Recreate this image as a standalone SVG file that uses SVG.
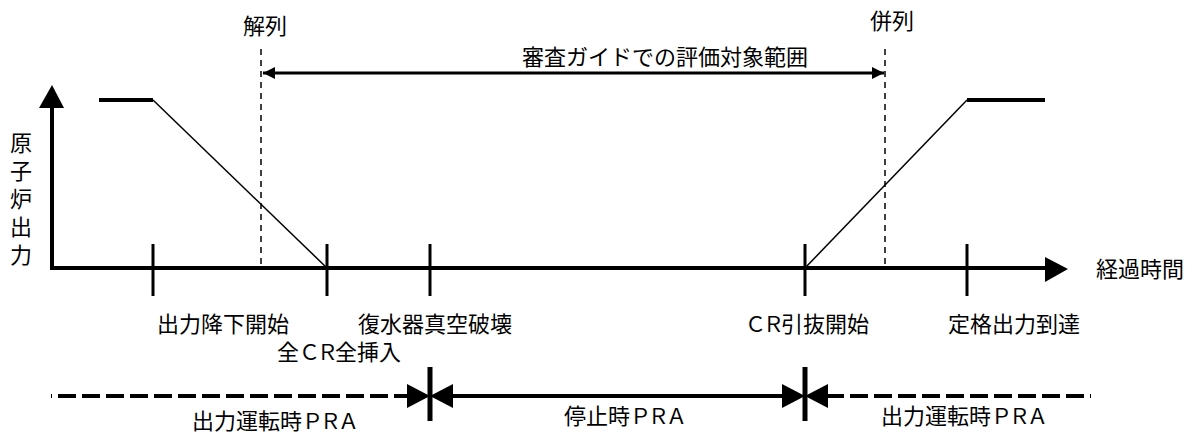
<svg xmlns="http://www.w3.org/2000/svg" width="1199" height="439" viewBox="0 0 1199 439">
<style>
text{font-family:"Noto Sans CJK JP","Noto Sans",sans-serif;font-size:22px;fill:#000}
.lt{letter-spacing:-3px;font-size:21px}
.vt{writing-mode:vertical-rl;letter-spacing:6px}
.ax{stroke:#000;stroke-width:4;fill:none}
.tk{stroke:#000;stroke-width:3;fill:none}
.bar{stroke:#000;stroke-width:5;fill:none}
.thin{stroke:#000;stroke-width:1.5;fill:none}
.dash{stroke:#000;stroke-width:1.5;stroke-dasharray:6,5;fill:none}
.bdash{stroke:#000;stroke-width:4;stroke-dasharray:18,6;fill:none}
.tri{fill:#000;stroke:none}
</style>
<defs>
<marker id="ah" viewBox="0 0 12 12" refX="12" refY="6" markerWidth="4" markerHeight="4" orient="auto-start-reverse" markerUnits="strokeWidth"><path d="M0,0L12,6L0,12z" fill="#000"/></marker>
</defs>
<g id="axes">
<line class="ax" x1="52" y1="268" x2="52" y2="106"/>
<path class="tri" d="M52,85L64,108L39,108z"/>
<line class="ax" x1="50" y1="268" x2="1047" y2="268"/>
<path class="tri" d="M1068,269L1045,257L1045,282z"/>
<text x="1096" y="277">経過時間</text>
<text id="ylabel" class="vt" x="21" y="132">原子炉出力</text>
</g>
<g id="curve">
<path class="ax" d="M99,100L153,100"/>
<path class="thin" d="M153,100L327,268"/>
<path class="thin" d="M805,268L967,100"/>
<path class="ax" d="M967,100L1045,100"/>
</g>
<g id="ticks">
<line class="tk" x1="153" y1="244" x2="153" y2="296"/>
<line class="tk" x1="327" y1="244" x2="327" y2="296"/>
<line class="tk" x1="430" y1="244" x2="430" y2="296"/>
<line class="tk" x1="805" y1="244" x2="805" y2="296"/>
<line class="tk" x1="967" y1="244" x2="967" y2="296"/>
</g>
<g id="range">
<line class="dash" x1="261" y1="49" x2="261" y2="268"/>
<line class="dash" x1="885" y1="49" x2="885" y2="268"/>
<text x="243" y="34">解列</text>
<text x="870" y="29">併列</text>
<line stroke="#000" stroke-width="3" x1="263" y1="73" x2="884" y2="73" marker-start="url(#ah)" marker-end="url(#ah)"/>
<text x="522" y="65">審査ガイドでの評価対象範囲</text>
</g>
<g id="events">
<text x="157" y="332">出力降下開始</text>
<text x="358" y="332">復水器真空破壊</text>
<text x="277" y="360">全<tspan class="lt">ＣＲ</tspan>全挿入</text>
<text x="745" y="332"><tspan class="lt">ＣＲ</tspan>引抜開始</text>
<text x="948" y="332">定格出力到達</text>
</g>
<g id="connectors">
<line class="bdash" x1="51" y1="396" x2="407" y2="396" stroke-dashoffset="17"/>
<line class="ax" x1="453" y1="396" x2="783" y2="396"/>
<line class="bdash" x1="828" y1="396" x2="1091" y2="396" stroke-dashoffset="2"/>
<path class="tri" d="M407,384L430,396L407,408zM453,384L430,396L453,408z"/>
<line class="bar" x1="430" y1="367" x2="430" y2="421"/>
<path class="tri" d="M782,384L805,396L782,408zM828,384L805,396L828,408z"/>
<line class="bar" x1="805" y1="367" x2="805" y2="421"/>
</g>
<g id="phases">
<text x="192" y="429">出力運転時<tspan class="lt">ＰＲＡ</tspan></text>
<text x="564" y="424">停止時<tspan class="lt">ＰＲＡ</tspan></text>
<text x="881" y="424">出力運転時<tspan class="lt">ＰＲＡ</tspan></text>
</g>
</svg>
